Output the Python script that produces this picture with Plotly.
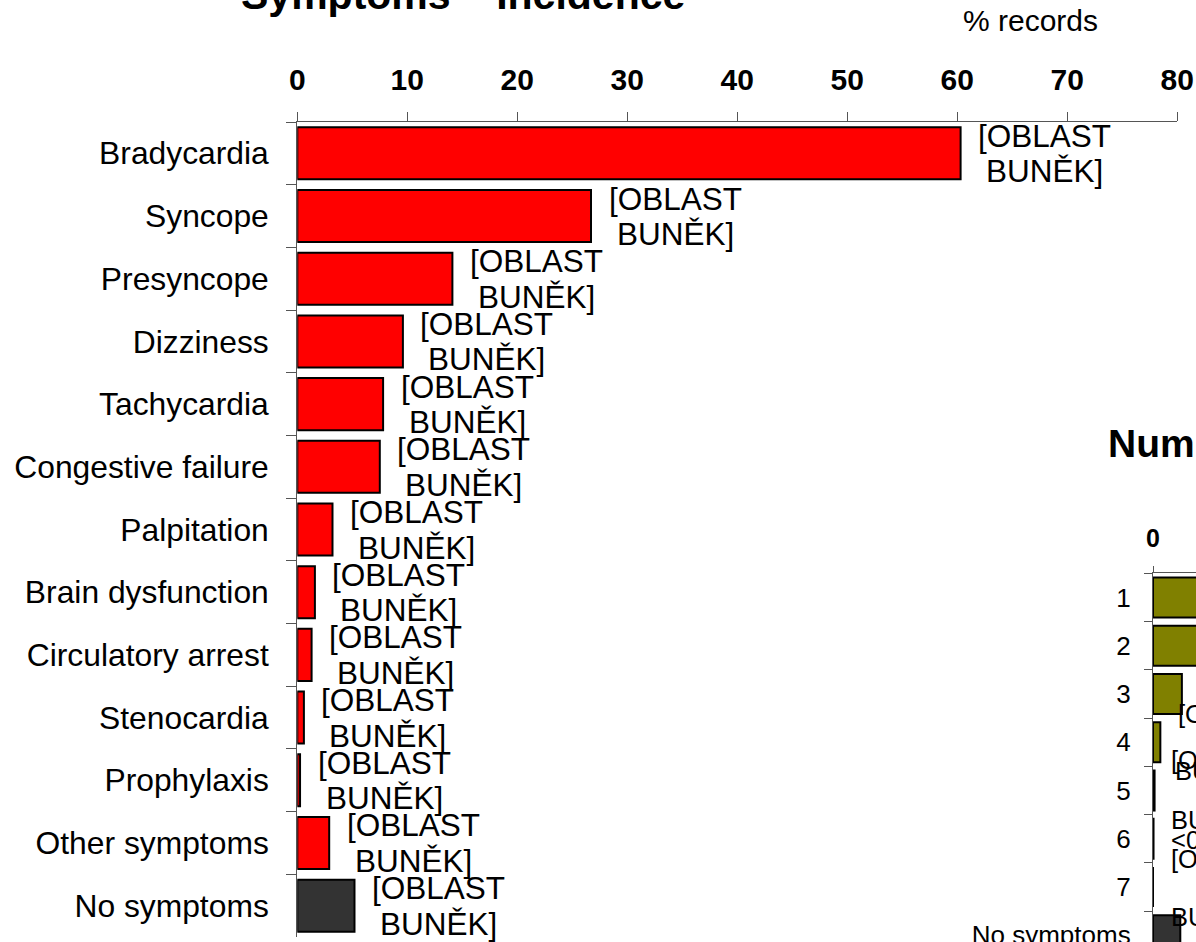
import plotly.graph_objects as go

# ---- data -------------------------------------------------------------
symptoms = [
    "Bradycardia", "Syncope", "Presyncope", "Dizziness", "Tachycardia",
    "Congestive failure", "Palpitation", "Brain dysfunction",
    "Circulatory arrest", "Stenocardia", "Prophylaxis", "Other symptoms",
    "No symptoms",
]
incidence_pct = [60.3, 26.7, 14.1, 9.6, 7.8, 7.5, 3.2, 1.6, 1.3, 0.6, 0.25, 2.9, 5.2]

symptom_counts = ["1", "2", "3", "4", "5", "6", "7", "No symptoms"]
count_pct = [55.0, 32.5, 5.5, 1.4, 0.3, 0.1, 0.0, 5.2]

x_tick_vals = [0, 10, 20, 30, 40, 50, 60, 70, 80]
cell_label_lines = ["[OBLAST", "BUNĚK]"]

# label pieces of the symptom-count chart: (category, text, px right of axis, px below centre)
count_label_pieces = [
    ("3", "[OBLAST", 23, 20),
    ("4", "[OBLAST", 16, 18),
    ("4", "BUNĚK]", 20, 29),
    ("5", "BUNĚK]", 16, 29),
    ("6", "<0,1%", 16, 1),
    ("6", "[OBLAST", 16, 20),
    ("7", "BUNĚK]", 16, 30),
]

# ---- styling ----------------------------------------------------------
W, H = 1196, 942
FONT = "Liberation Sans, Arial, sans-serif"
RED, DARK, OLIVE = "#FF0000", "#333333", "#808000"
AXIS = "#555555"

main_colors = [DARK if s == "No symptoms" else RED for s in symptoms]
count_colors = [DARK if s == "No symptoms" else OLIVE for s in symptom_counts]


def px_x(p):
    return p / W


def px_y(p):
    return 1 - p / H


fig = go.Figure()

fig.add_trace(go.Bar(
    x=incidence_pct, y=symptoms, orientation="h",
    marker=dict(color=main_colors, line=dict(color="black", width=2)),
    xaxis="x", yaxis="y", hoverinfo="x+y",
))

fig.add_trace(go.Bar(
    x=count_pct, y=symptom_counts, orientation="h",
    marker=dict(color=count_colors, line=dict(color="black", width=2)),
    xaxis="x2", yaxis="y2", hoverinfo="x+y",
))

annotations = []

# two-line data labels next to each bar of the main chart
for i, v in enumerate(incidence_pct):
    for k, line in enumerate(cell_label_lines):
        annotations.append(dict(
            x=v, y=i, xref="x", yref="y", text=line, showarrow=False,
            xanchor="center", yanchor="middle", xshift=84,
            yshift=17.5 if k == 0 else -18,
            font=dict(family=FONT, size=31.5, color="black"),
        ))

# label pieces of the symptom-count chart (category index used as position)
for cat, txt, dx, dy in count_label_pieces:
    annotations.append(dict(
        x=0, y=symptom_counts.index(cat), xref="x2", yref="y2", text=txt,
        showarrow=False, xanchor="left", yanchor="middle",
        xshift=dx, yshift=-dy,
        font=dict(family=FONT, size=25.5, color="black"),
    ))

# titles
annotations += [
    dict(x=px_x(463), y=px_y(-4.7), xref="paper", yref="paper",
         text="<b>Symptoms – Incidence</b>", showarrow=False,
         xanchor="center", yanchor="middle",
         font=dict(family=FONT, size=41, color="black")),
    dict(x=px_x(1030), y=px_y(21), xref="paper", yref="paper",
         text="% records", showarrow=False,
         xanchor="center", yanchor="middle",
         font=dict(family=FONT, size=30, color="black")),
    dict(x=px_x(1106), y=px_y(443), xref="paper", yref="paper",
         text="<b>Number of symptoms</b>", showarrow=False,
         xanchor="left", yanchor="middle",
         font=dict(family=FONT, size=39, color="black")),
]

fig.update_layout(
    width=W, height=H, autosize=False,
    margin=dict(l=0, r=0, t=0, b=0, pad=0),
    paper_bgcolor="white", plot_bgcolor="rgba(0,0,0,0)",
    showlegend=False, bargap=0.17,
    annotations=annotations,
    xaxis=dict(
        domain=[px_x(297.3), px_x(1177.3)], range=[0, 80],
        side="top", anchor="y", tickvals=x_tick_vals,
        showgrid=False, zeroline=False,
        showline=True, linecolor=AXIS, linewidth=1.3,
        ticks="outside", ticklen=9, tickcolor=AXIS, tickwidth=1.3,
        ticklabelstandoff=10,
        tickfont=dict(family=FONT, size=30, color="black", weight="bold"),
        automargin=False,
    ),
    yaxis=dict(
        domain=[px_y(937), px_y(122)], range=[12.5, -0.5],
        type="category", categoryarray=symptoms, anchor="x",
        showgrid=False, zeroline=False,
        showline=True, linecolor=AXIS, linewidth=1.3,
        ticks="outside", tickson="boundaries", ticklen=10,
        tickcolor=AXIS, tickwidth=1.3, ticklabelstandoff=21,
        tickfont=dict(family=FONT, size=31.8, color="black"),
        automargin=False,
    ),
    xaxis2=dict(
        domain=[px_x(1153), 1.0], range=[0, 43 / 5.25],
        side="top", anchor="y2", tickvals=[0, 10],
        showgrid=False, zeroline=False,
        showline=True, linecolor=AXIS, linewidth=1.3,
        ticks="outside", ticklen=6, tickcolor=AXIS, tickwidth=1.3,
        ticklabelstandoff=9,
        tickfont=dict(family=FONT, size=25, color="black", weight="bold"),
        automargin=False,
    ),
    yaxis2=dict(
        domain=[0, px_y(573.4)],
        range=[-0.5 + (H - 573.4) / 48.25, -0.5],
        type="category", categoryarray=symptom_counts, anchor="x2",
        showgrid=False, zeroline=False,
        showline=True, linecolor=AXIS, linewidth=1.3,
        ticks="outside", tickson="boundaries", ticklen=8,
        tickcolor=AXIS, tickwidth=1.3, ticklabelstandoff=16,
        tickfont=dict(family=FONT, size=26, color="black"),
        automargin=False,
    ),
)

fig.write_html("out.html")
